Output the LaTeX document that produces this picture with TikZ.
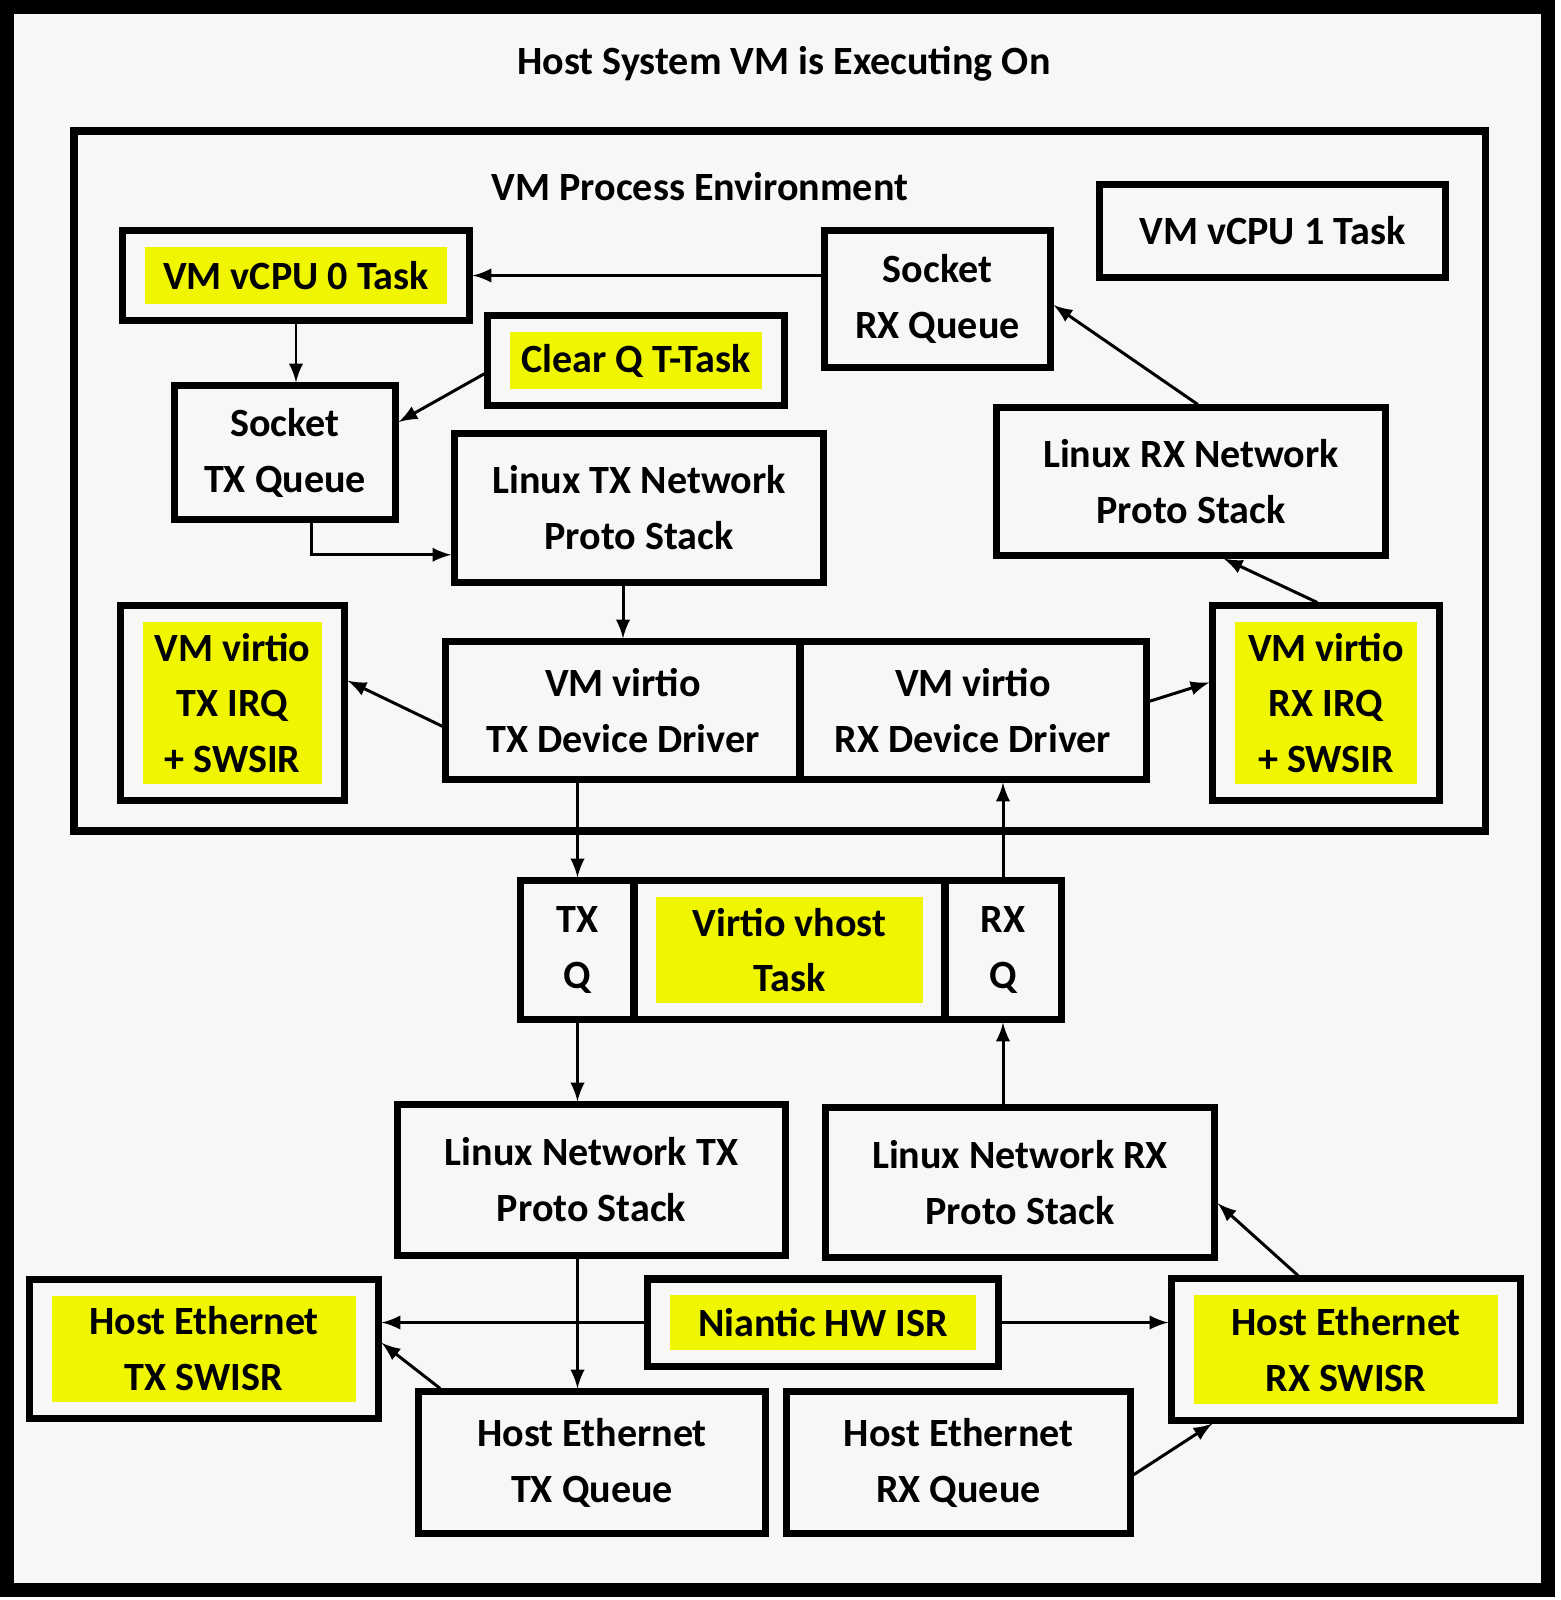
\documentclass[tikz,border=0pt]{standalone}
\usepackage{fontspec}
\setmainfont{Carlito}
\usepackage{xcolor}
\definecolor{hlyellow}{RGB}{240,245,0}
\definecolor{paper}{RGB}{247,247,247}

\begin{document}
\begin{tikzpicture}[x=0.01cm,y=-0.01cm]
  \tikzstyle{txt}=[font=\fontsize{11.4}{15.9}\selectfont\bfseries];
  \tikzstyle{box}=[txt, draw, line width=2pt, align=center, inner sep=0pt];
  \tikzstyle{hlbox}=[box, path picture={\fill[hlyellow]
      ([shift={(0.22cm,0.16cm)}]path picture bounding box.south west) rectangle
      ([shift={(-0.22cm,-0.16cm)}]path picture bounding box.north east);}];
  \tikzstyle{flow}=[-latex, line width=0.85pt];
  \useasboundingbox (0,0) rectangle (1560,1600);
  \fill[white] (0,0) rectangle (1560,1600);
  \fill[paper] (7,7) rectangle (1548,1590);
  \draw[line width=4pt] (7,7) rectangle (1548,1590);
  \node[txt] (host) at (784,64) {Host System VM is Executing On};
  \draw[line width=2pt] (74,131) rectangle (1485,831);
  \node[txt] (vmenv) at (700,187) {VM Process Environment};

  \node[hlbox, minimum width=3.46cm, minimum height=0.89cm] (vcpu0) at (296,275.5) {VM vCPU 0 Task};
  \node[box, minimum width=3.45cm, minimum height=0.92cm] (vcpu1) at (1272.5,231) {VM vCPU 1 Task};
  \node[box, minimum width=2.25cm, minimum height=1.36cm] (srx) at (937.5,299) {Socket\\RX Queue};
  \node[hlbox, minimum width=2.96cm, minimum height=0.89cm] (clrq) at (636,360.5) {Clear Q T-Task};
  \node[box, minimum width=2.2cm, minimum height=1.33cm] (stx) at (285,452.5) {Socket\\TX Queue};
  \node[box, minimum width=3.68cm, minimum height=1.48cm] (ltx) at (639,508) {Linux TX Network\\Proto Stack};
  \node[box, minimum width=3.88cm, minimum height=1.47cm] (lrx) at (1191,481.5) {Linux RX Network\\Proto Stack};
  \node[hlbox, minimum width=2.23cm, minimum height=1.94cm] (txirq) at (232.5,703) {VM virtio\\TX IRQ\\+ SWSIR};
  \node[box, minimum width=3.54cm, minimum height=1.37cm] (vtx) at (623,710.5) {VM virtio\\TX Device Driver};
  \node[box, minimum width=3.46cm, minimum height=1.37cm] (vrx) at (973,710.5) {VM virtio\\RX Device Driver};
  \node[hlbox, minimum width=2.26cm, minimum height=1.94cm] (rxirq) at (1326,703) {VM virtio\\RX IRQ\\+ SWSIR};

  \node[box, minimum width=1.13cm, minimum height=1.38cm] (txq) at (577.5,950) {TX\\Q};
  \node[hlbox, minimum width=3.11cm, minimum height=1.38cm] (vhost) at (789.5,950) {Virtio vhost\\Task};
  \node[box, minimum width=1.16cm, minimum height=1.38cm] (rxq) at (1003,950) {RX\\Q};

  \node[box, minimum width=3.87cm, minimum height=1.5cm] (lntx) at (591.5,1180) {Linux Network TX\\Proto Stack};
  \node[box, minimum width=3.88cm, minimum height=1.49cm] (lnrx) at (1020,1182.5) {Linux Network RX\\Proto Stack};
  \node[hlbox, minimum width=3.48cm, minimum height=1.38cm] (hetxsw) at (204,1349) {Host Ethernet\\TX SWISR};
  \node[hlbox, minimum width=3.5cm, minimum height=0.87cm] (nia) at (823,1322.5) {Niantic HW ISR};
  \node[hlbox, minimum width=3.48cm, minimum height=1.41cm] (herxsw) at (1346,1349.5) {Host Ethernet\\RX SWISR};
  \node[box, minimum width=3.46cm, minimum height=1.41cm] (hetxq) at (592,1462.5) {Host Ethernet\\TX Queue};
  \node[box, minimum width=3.43cm, minimum height=1.41cm] (herxq) at (958.5,1462.5) {Host Ethernet\\RX Queue};

  \draw[flow] (srx.west |- vcpu0.east) -- (vcpu0.east);
  \draw[flow] (vcpu0.south) -- (vcpu0.south |- stx.north);
  \draw[flow] (clrq.185) -- (stx.15);
  \draw[flow] (stx.-69) |- (ltx.194);
  \draw[flow] (vtx.north |- ltx.south) -- (vtx.north);
  \draw[flow] (vtx.185) -- (txirq.11);
  \draw[flow] (vrx.3) -- (rxirq.170);
  \draw[flow] (rxirq.95) -- (lrx.-67);
  \draw[flow] (lrx.85) -- (srx.-3);
  \draw[flow] (txq.north |- vtx.south) -- (txq.north);
  \draw[flow] (rxq.north) -- (rxq.north |- vrx.south);
  \draw[flow] (txq.south) -- (txq.south |- lntx.north);
  \draw[flow] (rxq.south |- lnrx.north) -- (rxq.south);
  \draw[flow] (lntx.south -| txq.south) -- (txq.south |- hetxq.north);
  \draw[flow] (nia.west) -- (nia.west -| hetxsw.east);
  \draw[flow] (nia.east) -- (nia.east -| herxsw.west);
  \draw[flow] (hetxq.154) -- (hetxsw.2);
  \draw[flow] (herxq.-4) -- (herxsw.-151);
  \draw[flow] (herxsw.123) -- (lnrx.-6);
\end{tikzpicture}
\end{document}
